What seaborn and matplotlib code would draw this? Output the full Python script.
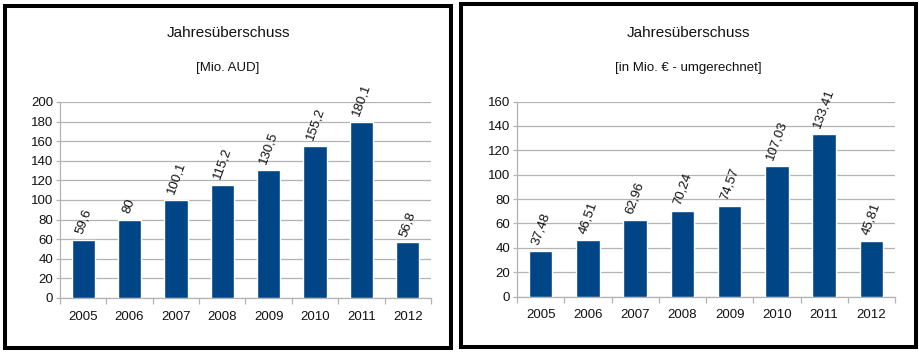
import matplotlib
matplotlib.use("Agg")
import matplotlib.pyplot as plt
from matplotlib.patches import Rectangle
from matplotlib.ticker import MultipleLocator, FixedLocator
import seaborn as sns
import pandas as pd

years = ["2005", "2006", "2007", "2008", "2009", "2010", "2011", "2012"]
aud_values = [59.6, 80, 100.1, 115.2, 130.5, 155.2, 180.1, 56.8]
eur_values = [37.48, 46.51, 62.96, 70.24, 74.57, 107.03, 133.41, 45.81]
title = "Jahresüberschuss"
subtitle_left = "[Mio. AUD]"
subtitle_right = "[in Mio. € - umgerechnet]"
ymax_left = 200
ymax_right = 160

sns.set_theme(style="white")
plt.rcParams["font.family"] = ["Liberation Sans", "DejaVu Sans"]

BAR = "#004586"
GRID = "#b3b3b3"

fig = plt.figure(figsize=(9.2, 3.52), dpi=100)
fig.patch.set_facecolor("white")


def fmt(v):
    return f"{v:g}".replace(".", ",")


def panel(rect, values, ymax, subtitle, title_x):
    ax = fig.add_axes(rect)
    df = pd.DataFrame({"Jahr": years, "Wert": values})
    sns.barplot(data=df, x="Jahr", y="Wert", color=BAR, width=0.5,
                saturation=1, ax=ax, zorder=3)
    ax.set_xlim(-0.5, len(years) - 0.5)
    ax.set_ylim(0, ymax)
    ax.yaxis.set_major_locator(MultipleLocator(20))
    ax.set_xlabel("")
    ax.set_ylabel("")
    ax.grid(axis="y", color=GRID, linewidth=0.9, zorder=0)
    ax.set_axisbelow(True)
    for s in ["top", "right"]:
        ax.spines[s].set_visible(False)
    for s in ["left", "bottom"]:
        ax.spines[s].set_color(GRID)
        ax.spines[s].set_linewidth(0.9)
    ax.tick_params(axis="x", which="major", length=0, pad=9, labelsize=9.5,
                   labelcolor="#111111")
    ax.xaxis.set_minor_locator(FixedLocator([i - 0.5 for i in range(len(years) + 1)]))
    ax.tick_params(axis="x", which="minor", length=4, width=0.9, color=GRID,
                   direction="out", bottom=True)
    ax.tick_params(axis="y", which="major", length=3, width=0.9, color=GRID,
                   direction="out", left=True, pad=2, labelsize=9.5,
                   labelcolor="#111111")
    ax.bar_label(ax.containers[0], labels=[fmt(v) for v in values],
                 rotation=70, padding=3, fontsize=9.5, color="#111111")
    fig.text(title_x, 1 - 33 / 352, title, ha="center", va="center",
             fontsize=11, color="#111111")
    fig.text(title_x, 1 - 68 / 352, subtitle, ha="center", va="center",
             fontsize=9.5, color="#111111")
    return ax


panel([60 / 920, 1 - 298 / 352, (431 - 60) / 920, (298 - 102) / 352],
      aud_values, ymax_left, subtitle_left, 228 / 920)
panel([517 / 920, 1 - 296.5 / 352, (895 - 517) / 920, (296.5 - 101.5) / 352],
      eur_values, ymax_right, subtitle_right, 688 / 920)

# panel frames
fig.patches.append(Rectangle((5.5 / 920, 1 - 347.5 / 352), (451 - 5.5) / 920,
                             (347.5 - 5.5) / 352, transform=fig.transFigure,
                             fill=False, edgecolor="black", linewidth=2.9))
fig.patches.append(Rectangle((461 / 920, 1 - 347 / 352), (916 - 461) / 920,
                             (347 - 4) / 352, transform=fig.transFigure,
                             fill=False, edgecolor="black", linewidth=2.9))

fig.savefig("out.png", dpi=100, facecolor="white")
